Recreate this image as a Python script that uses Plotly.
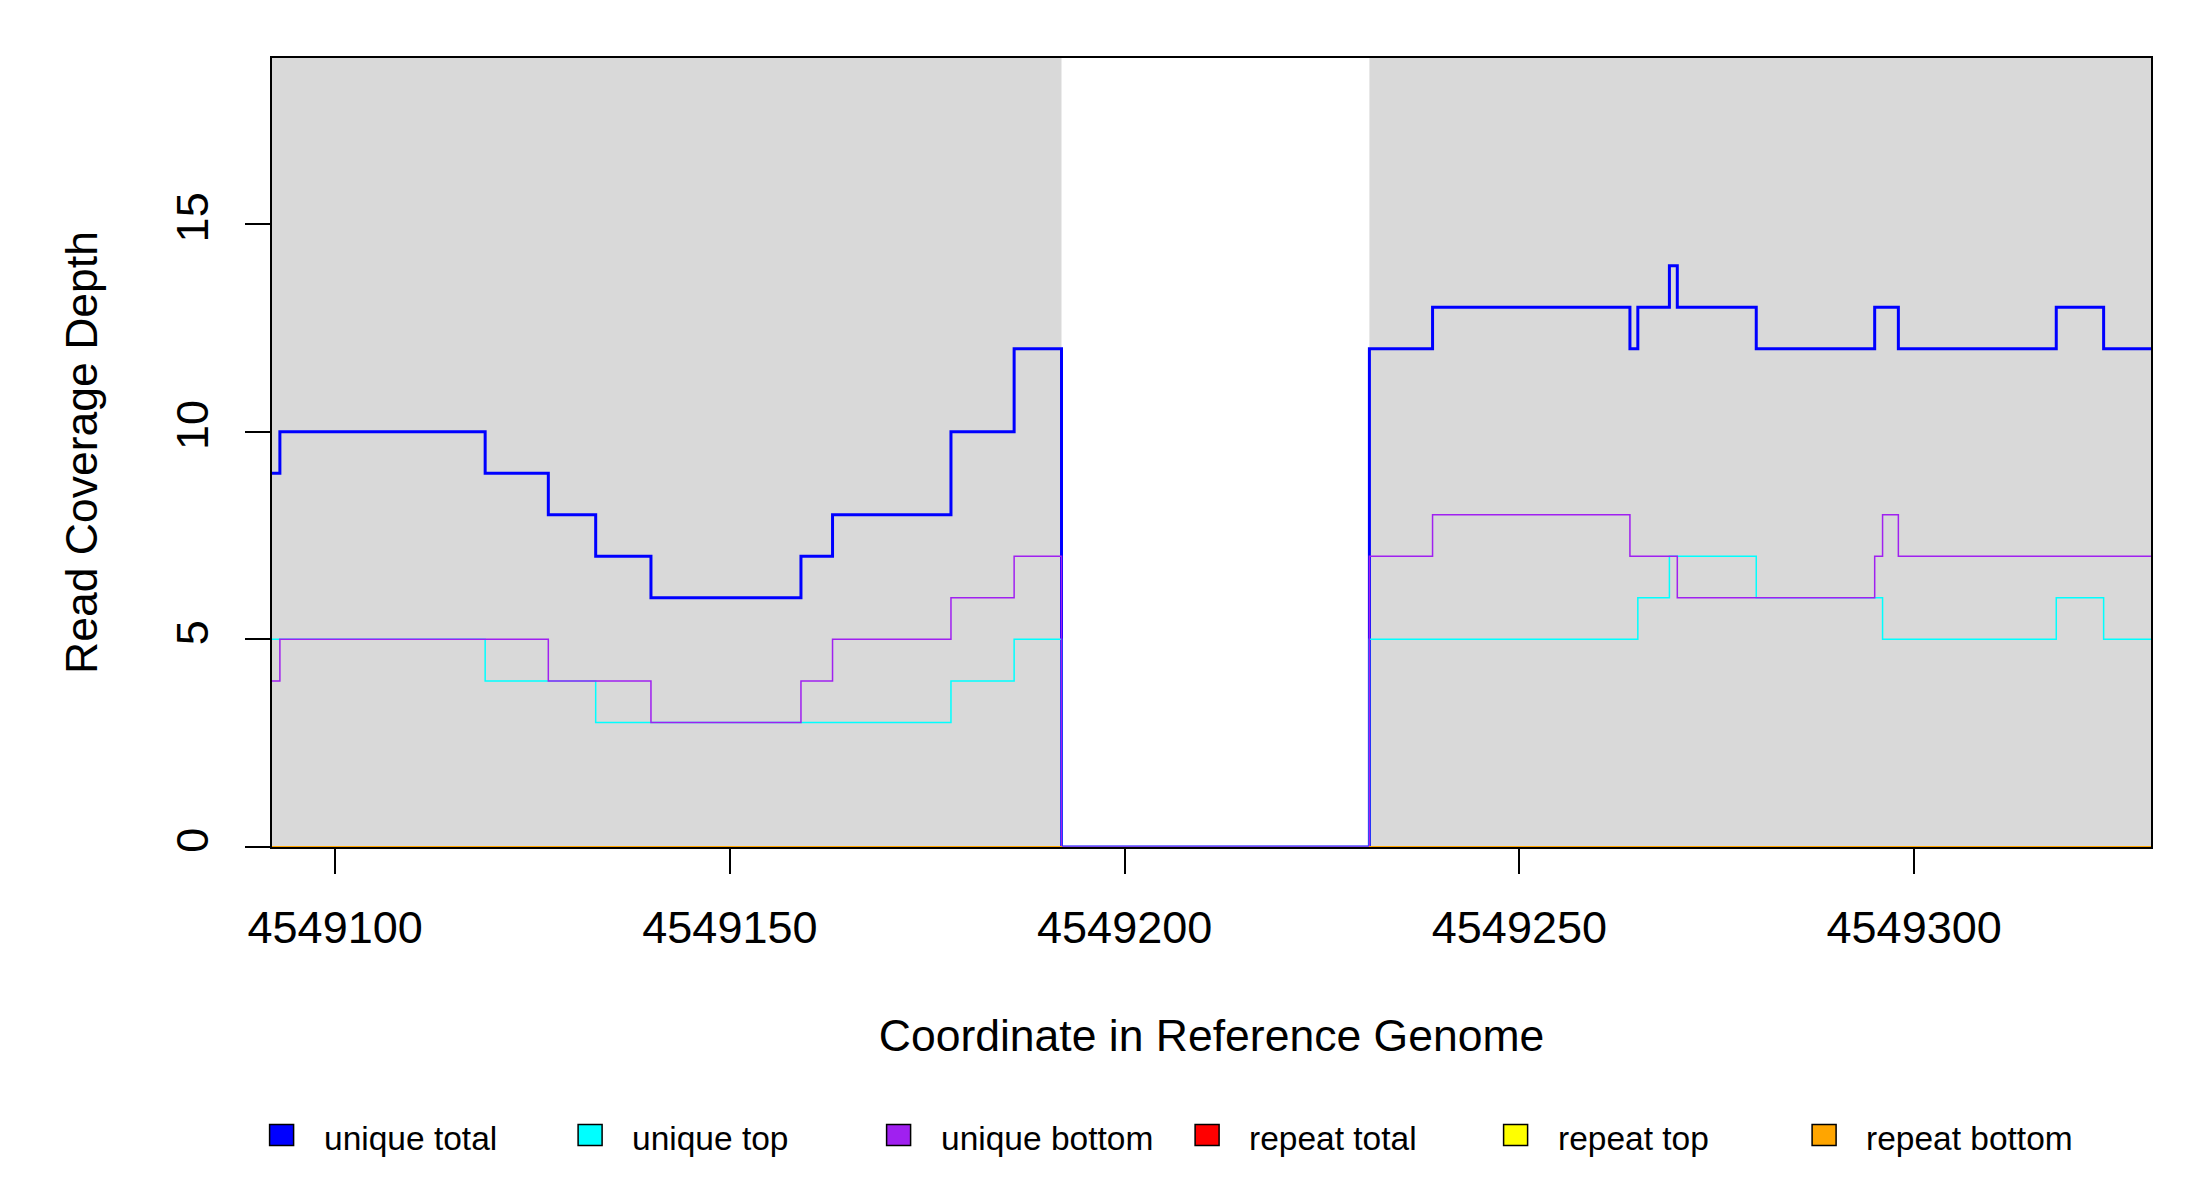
import plotly.graph_objects as go

# --- data ---
# step breakpoints (genome coordinate) and depth from that point on
unique_total_x = [4549092, 4549093, 4549119, 4549127, 4549133, 4549140, 4549159,
                  4549163, 4549178, 4549186, 4549192, 4549231, 4549239, 4549264,
                  4549265, 4549269, 4549270, 4549280, 4549295, 4549298, 4549318,
                  4549324, 4549330]
unique_total_y = [9, 10, 9, 8, 7, 6, 7, 8, 10, 12, 0, 12, 13, 12, 13, 14, 13, 12,
                  13, 12, 13, 12, 12]

unique_top_x = [4549092, 4549119, 4549133, 4549178, 4549186, 4549192, 4549231,
                4549265, 4549269, 4549280, 4549296, 4549318, 4549324, 4549330]
unique_top_y = [5, 4, 3, 4, 5, 0, 5, 6, 7, 6, 5, 6, 5, 5]

unique_bottom_x = [4549092, 4549093, 4549127, 4549140, 4549159, 4549163, 4549178,
                   4549186, 4549192, 4549231, 4549239, 4549264, 4549270, 4549295,
                   4549296, 4549298, 4549330]
unique_bottom_y = [4, 5, 4, 3, 4, 5, 6, 7, 0, 7, 8, 7, 6, 7, 8, 7, 7]

# repeat coverage is zero over both shaded regions
repeat_x = [4549092, 4549192, None, 4549231, 4549330]
repeat_y = [0, 0, None, 0, 0]

# shaded (gene) regions
region_start = [4549092, 4549231]
region_end = [4549192, 4549330]

x_ticks = [4549100, 4549150, 4549200, 4549250, 4549300]
y_ticks = [0, 5, 10, 15]

series_names = ["unique total", "unique top", "unique bottom",
                "repeat total", "repeat top", "repeat bottom"]
series_colors = ["#0000FF", "#00FFFF", "#A020F0", "#FF0000", "#FFFF00", "#FFA500"]

FONT = "Liberation Sans"
# page body has an 8px margin, so the figure is 8px smaller than the window
OFF = 8
W, H = 2200 - OFF, 1200 - OFF
M_L, M_R, M_T, M_B = 272 - OFF, 49, 58 - OFF, 353
PW, PH = W - M_L - M_R, H - M_T - M_B


def px_x(px):
    # page pixel -> paper coordinate
    return (px - OFF - M_L) / PW


def px_y(py):
    return (H - M_B - (py - OFF)) / PH


fig = go.Figure()

series = [
    (unique_total_x, unique_total_y, 3),
    (unique_top_x, unique_top_y, 1.5),
    (unique_bottom_x, unique_bottom_y, 1.5),
    (repeat_x, repeat_y, 2),
    (repeat_x, repeat_y, 2),
    (repeat_x, repeat_y, 2),
]
for (xs, ys, w), name, col in zip(series, series_names, series_colors):
    fig.add_trace(go.Scatter(
        x=xs, y=ys, name=name, mode="lines",
        line=dict(color=col, width=w, shape="hv"),
        showlegend=False,
    ))

# grey background for the regions
for s, e in zip(region_start, region_end):
    fig.add_shape(type="rect", xref="x", yref="paper", x0=s, x1=e, y0=0, y1=1,
                  fillcolor="#D9D9D9", line_width=0, layer="below")

# legend row drawn by hand, to get R-style boxes
for i, (name, col) in enumerate(zip(series_names, series_colors)):
    cx = 281.6 + 308.5 * i
    cy = 1135
    fig.add_shape(type="rect", xref="paper", yref="paper",
                  x0=px_x(cx - 12), x1=px_x(cx + 12),
                  y0=px_y(cy + 10.5), y1=px_y(cy - 10.5),
                  fillcolor=col, line=dict(color="black", width=1.5))
    fig.add_annotation(text=name, xref="paper", yref="paper",
                       x=px_x(cx + 40), y=px_y(1138), xanchor="left", yanchor="middle",
                       showarrow=False, font=dict(family=FONT, size=33.5, color="black"))

axis_common = dict(
    showline=True, mirror=True, linecolor="black", linewidth=1.5,
    showgrid=False, zeroline=False,
    ticks="outside", ticklen=25, tickwidth=1.5, tickcolor="black",
    tickfont=dict(family=FONT, size=45, color="black"),
)

fig.update_xaxes(
    range=[4549092, 4549330], tickvals=x_ticks, tickformat="d",
    title=dict(text="Coordinate in Reference Genome",
               font=dict(family=FONT, size=44.5, color="black"), standoff=68),
    ticklabelstandoff=15,
    **axis_common,
)
fig.update_yaxes(
    range=[0, 19], tickvals=y_ticks, tickangle=-90,
    title=dict(text="Read Coverage Depth",
               font=dict(family=FONT, size=44.5, color="black"), standoff=56),
    ticklabelstandoff=19,
    **axis_common,
)

fig.update_layout(
    width=W, height=H,
    margin=dict(l=M_L, r=M_R, t=M_T, b=M_B),
    plot_bgcolor="white", paper_bgcolor="white",
    font=dict(family=FONT, color="black"),
    showlegend=False,
)

fig.write_html("out.html")
